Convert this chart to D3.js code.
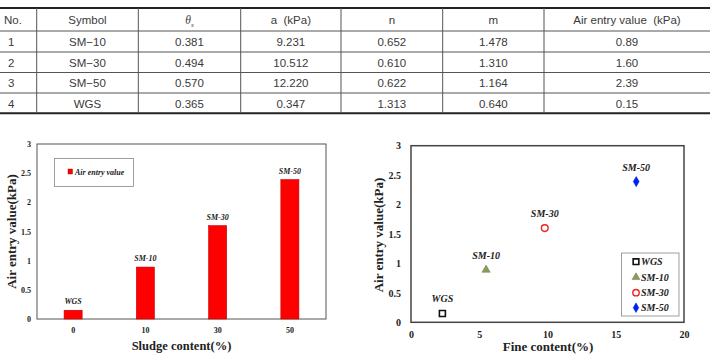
<!DOCTYPE html>
<html><head><meta charset="utf-8">
<script src="https://cdn.jsdelivr.net/npm/d3@7"></script>
<style>
html,body{margin:0;padding:0;background:#fff;}
svg{display:block;}
</style>
</head><body>
<svg id="c" width="710" height="356"></svg>
<script>
// ---------- data ----------
const tableHeaders = ["No.", "Symbol", "θs", "a\u00a0\u00a0(kPa)", "n", "m", "Air\u00a0entry\u00a0value\u00a0\u00a0(kPa)"];
const nos = ["1", "2", "3", "4"];
const symbols = ["SM\u221210", "SM\u221230", "SM\u221250", "WGS"];
const thetaS = ["0.381", "0.494", "0.570", "0.365"];
const aKPa = ["9.231", "10.512", "12.220", "0.347"];
const nVals = ["0.652", "0.610", "0.622", "1.313"];
const mVals = ["1.478", "1.310", "1.164", "0.640"];
const aevVals = ["0.89", "1.60", "2.39", "0.15"];

const sludgeCats = ["0", "10", "30", "50"];
const barLabels = ["WGS", "SM-10", "SM-30", "SM-50"];
const barValues = [0.15, 0.89, 1.60, 2.39];
const barLegend = "Air entry value";

const scatterNames = ["WGS", "SM-10", "SM-30", "SM-50"];
const fineContent = [2.3, 5.5, 9.8, 16.5];
const scatterAev = [0.15, 0.89, 1.60, 2.39];

const yTicks = [0, 0.5, 1, 1.5, 2, 2.5, 3];
const xTicksScatter = [0, 5, 10, 15, 20];

// ---------- drawing ----------
const svg = d3.select("#c");
const serif = "'Liberation Serif','Times New Roman',serif";

// ===== table =====
const colX = [0, 36.7, 138.3, 240.7, 341, 442.7, 544, 710];
const rowY = [8, 31, 52, 72.5, 93, 113.3];
const tbl = svg.append("g").attr("font-family", "'Liberation Sans',Arial,sans-serif")
  .attr("font-size", 11.5).attr("fill", "#3a3a3a");
const rows = nos.map((d, i) => [d, symbols[i], thetaS[i], aKPa[i], nVals[i], mVals[i], aevVals[i]]);
rowY.forEach((y, i) => {
  const thick = (i === 0 || i === rowY.length - 1);
  tbl.append("line").attr("x1", 0).attr("x2", 710).attr("y1", y).attr("y2", y)
    .attr("stroke", thick ? "#222" : "#555").attr("stroke-width", thick ? 2 : 1);
});
colX.slice(1, -1).forEach(x => {
  tbl.append("line").attr("x1", x).attr("x2", x).attr("y1", rowY[0]).attr("y2", rowY[rowY.length - 1])
    .attr("stroke", "#555").attr("stroke-width", 1);
});
tableHeaders.forEach((h, j) => {
  const cx = j === 0 ? 4 : (colX[j] + colX[j + 1]) / 2;
  const t = tbl.append("text").attr("x", cx).attr("y", (rowY[0] + rowY[1]) / 2 + 4.5)
    .attr("text-anchor", j === 0 ? "start" : "middle");
  if (j === 2) {
    t.append("tspan").attr("font-family", serif).attr("font-style", "italic").text("θ");
    t.append("tspan").attr("font-family", serif).attr("font-style", "italic").attr("font-size", 7).attr("dy", 3).text("s");
  } else t.text(h);
});
rows.forEach((r, i) => {
  r.forEach((v, j) => {
    const cx = j === 0 ? 8 : (colX[j] + colX[j + 1]) / 2;
    tbl.append("text").attr("x", cx).attr("y", (rowY[i + 1] + rowY[i + 2]) / 2 + 4.5)
      .attr("text-anchor", j === 0 ? "start" : "middle").text(v);
  });
});

// ===== bar chart =====
const b = {l: 37, r: 326, t: 144, b: 319};
const xb = d3.scaleBand().domain(sludgeCats).range([b.l, b.r]).paddingInner(0.75).paddingOuter(0.375);
const yb = d3.scaleLinear().domain([0, 3]).range([b.b, b.t]);
const g1 = svg.append("g").attr("font-family", serif).attr("font-weight", "bold");
g1.append("rect").attr("x", b.l).attr("y", b.t).attr("width", b.r - b.l).attr("height", b.b - b.t)
  .attr("fill", "none").attr("stroke", "#555").attr("stroke-width", 1);
g1.selectAll("rect.bar").data(barValues).join("rect").attr("class", "bar")
  .attr("x", (d, i) => xb(sludgeCats[i])).attr("width", xb.bandwidth())
  .attr("y", d => yb(d)).attr("height", d => yb(0) - yb(d))
  .attr("fill", "#ff0000").attr("stroke", "#c00000").attr("stroke-width", 0.6);
g1.selectAll("text.bl").data(barValues).join("text").attr("class", "bl")
  .attr("x", (d, i) => xb(sludgeCats[i]) + xb.bandwidth() / 2).attr("y", d => yb(d) - 6)
  .attr("text-anchor", "middle").attr("font-style", "italic").attr("font-size", 8).attr("fill", "#222")
  .text((d, i) => barLabels[i]);
const yAxB = d3.axisLeft(yb).tickValues(yTicks).tickSize(0).tickPadding(6).tickFormat(d3.format("~g"));
g1.append("g").attr("transform", `translate(${b.l},0)`).call(yAxB)
  .call(s => s.select(".domain").remove())
  .call(s => s.selectAll("text").attr("font-family", serif).attr("font-weight", "bold").attr("font-size", 8).attr("fill", "#222"));
const xAxB = d3.axisBottom(xb).tickSize(0).tickPadding(8);
g1.append("g").attr("transform", `translate(0,${b.b})`).call(xAxB)
  .call(s => s.select(".domain").remove())
  .call(s => s.selectAll("text").attr("font-family", serif).attr("font-weight", "bold").attr("font-size", 8).attr("fill", "#222"));
g1.append("text").attr("x", (b.l + b.r) / 2).attr("y", 350).attr("text-anchor", "middle")
  .attr("font-size", 12.5).attr("fill", "#222").text("Sludge content(%)");
g1.append("text").attr("transform", `translate(16,${(b.t + b.b) / 2}) rotate(-90)`).attr("text-anchor", "middle")
  .attr("font-size", 13).attr("fill", "#222").text("Air entry value(kPa)");
g1.append("rect").attr("x", 54.5).attr("y", 158.5).attr("width", 79).attr("height", 28)
  .attr("fill", "#fff").attr("stroke", "#888").attr("stroke-width", 0.8);
g1.append("rect").attr("x", 68).attr("y", 169).attr("width", 4.5).attr("height", 5).attr("fill", "#ff0000").attr("stroke", "#800").attr("stroke-width", 0.4);
g1.append("text").attr("x", 75).attr("y", 174.5).attr("font-style", "italic").attr("font-size", 8).attr("fill", "#222").text(barLegend);

// ===== scatter =====
const s = {l: 411, r: 684, t: 145.7, b: 322.3};
const xs = d3.scaleLinear().domain([0, 20]).range([s.l, s.r]);
const ys = d3.scaleLinear().domain([0, 3]).range([s.b, s.t]);
const g2 = svg.append("g").attr("font-family", serif).attr("font-weight", "bold");
g2.append("rect").attr("x", s.l).attr("y", s.t).attr("width", s.r - s.l).attr("height", s.b - s.t)
  .attr("fill", "none").attr("stroke", "#444").attr("stroke-width", 1.5);
const yAxS = d3.axisLeft(ys).tickValues(yTicks).tickSize(0).tickPadding(10).tickFormat(d3.format("~g"));
g2.append("g").attr("transform", `translate(${s.l},0)`).call(yAxS)
  .call(q => q.select(".domain").remove())
  .call(q => q.selectAll("text").attr("font-family", serif).attr("font-weight", "bold").attr("font-size", 10).attr("fill", "#222"));
const xAxS = d3.axisBottom(xs).tickValues(xTicksScatter).tickSize(0).tickPadding(9);
g2.append("g").attr("transform", `translate(0,${s.b})`).call(xAxS)
  .call(q => q.select(".domain").remove())
  .call(q => q.selectAll("text").attr("font-family", serif).attr("font-weight", "bold").attr("font-size", 10).attr("fill", "#222"));
g2.append("text").attr("x", 548).attr("y", 351).attr("text-anchor", "middle")
  .attr("font-size", 13).attr("fill", "#222").text("Fine content(%)");
g2.append("text").attr("transform", `translate(383,${(s.t + s.b) / 2 + 1}) rotate(-90)`).attr("text-anchor", "middle")
  .attr("font-size", 13).attr("fill", "#222").text("Air entry value(kPa)");

const markerStyles = [
  {type: d3.symbolSquare, size: 36, fill: "none", stroke: "#111", sw: 1.6},
  {type: d3.symbolTriangle, size: 30, fill: "#8c9a5e", stroke: "#6f7d45", sw: 0.5},
  {type: d3.symbolCircle, size: 36, fill: "none", stroke: "#ee2222", sw: 1.4},
  {type: d3.symbolDiamond, size: 30, fill: "#0022ee", stroke: "#0022ee", sw: 0.5}
];
scatterNames.forEach((nm, i) => {
  const st = markerStyles[i];
  const px = xs(fineContent[i]), py = ys(scatterAev[i]);
  g2.append("path").attr("d", d3.symbol().type(st.type).size(st.size)())
    .attr("transform", `translate(${px},${py})`)
    .attr("fill", st.fill).attr("stroke", st.stroke).attr("stroke-width", st.sw);
  g2.append("text").attr("x", px).attr("y", py - 11).attr("text-anchor", "middle")
    .attr("font-style", "italic").attr("font-size", 10).attr("fill", "#222").text(nm);
});
g2.append("rect").attr("x", 621.5).attr("y", 253).attr("width", 57.5).attr("height", 63)
  .attr("fill", "#fff").attr("stroke", "#888").attr("stroke-width", 0.8);
const legY = [261.7, 277.3, 292.7, 307.7];
scatterNames.forEach((nm, i) => {
  const st = markerStyles[i];
  g2.append("path").attr("d", d3.symbol().type(st.type).size(st.size * 0.9)())
    .attr("transform", `translate(636,${legY[i]})`)
    .attr("fill", st.fill).attr("stroke", st.stroke).attr("stroke-width", st.sw);
  g2.append("text").attr("x", 641).attr("y", legY[i] + 3.5)
    .attr("font-style", "italic").attr("font-size", 10).attr("fill", "#222").text(nm);
});
</script>
</body></html>
